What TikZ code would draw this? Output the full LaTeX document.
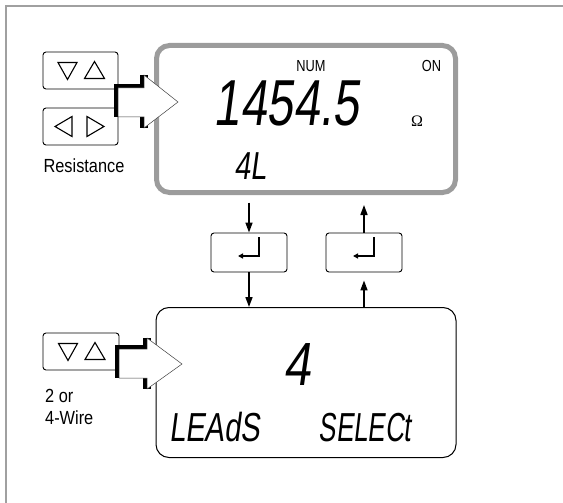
\documentclass[tikz,border=0pt]{standalone}
\usepackage{fontspec}
\setmainfont{Liberation Sans}
\newfontfamily\lcdfont[FakeSlant=0.18]{Liberation Sans}
\newfontfamily\serfont{Liberation Serif}
\usetikzlibrary{arrows.meta,calc}
\definecolor{framegray}{HTML}{A0A0A0}
\definecolor{dispgray}{HTML}{9C9C9C}
\begin{document}
\begin{tikzpicture}[x=1pt,y=-1pt,
  btn/.style={draw=black,line width=0.9pt,rounded corners=3pt,minimum width=75pt,minimum height=37pt,inner sep=0pt},
  entbtn/.style={draw=black,line width=0.9pt,rounded corners=3pt,minimum width=76pt,minimum height=39pt,inner sep=0pt},
  disp/.style={rounded corners=13pt,inner sep=0pt},
  conn/.style={line width=1.6pt,-{Triangle[length=10pt,width=7pt]}},
  tri/.style={line width=1.1pt,line join=miter},
  lbl/.style={inner sep=0pt},
  seg/.style={inner sep=0pt},
  fatarrow/.style={fill=white,draw=black!75,line width=0.5pt,line join=miter},
  fatshadow/.style={draw=black,line width=8pt,line join=miter,line cap=butt}]
\useasboundingbox (0,0) rectangle (563,503);
% frame
\draw[framegray,line width=1.2pt] (6,503) -- (6,6) -- (563,6);
% displays
\node[disp,draw=dispgray,line width=5pt,minimum width=299pt,minimum height=147pt] (top) at (306,119) {};
\node[disp,draw=black,line width=1pt,minimum width=300pt,minimum height=150pt] (bot) at (306,382.5) {};
% buttons
\node[btn] (ud1) at (80.5,70.5) {};
\node[btn] (lr) at (80.5,126.5) {};
\node[btn,minimum width=76pt] (ud2) at (81,351.5) {};
\node[entbtn] (e1) at (249,252.5) {};
\node[entbtn] (e2) at (364,252.5) {};
% triangle symbols
\foreach \b in {ud1,ud2}{
  \draw[tri] ($(\b.center)+(-22.5,-8)$) -- ++(19,0) -- ++(-9.5,17) -- cycle;
  \draw[tri] ($(\b.center)+(14,-9)$) -- ++(10,17) -- ++(-20,0) -- cycle;
}
\draw[tri] ($(lr.center)+(-8.5,-10)$) -- ++(0,20) -- ++(-17,-10) -- cycle;
\draw[tri] ($(lr.center)+(6.5,-10)$) -- ++(0,20) -- ++(17,-10) -- cycle;
% enter glyphs
\foreach \b in {e1,e2}{
  \draw[line width=1.4pt,-{Triangle[length=5pt,width=5pt]}] ($(\b.center)+(10,-15.5)$) -- ++(0,19) -- ++(-21,0);
}
% connectors
\draw[conn,shorten <=7.5pt] (top.south -| e1.north) -- (e1.north);
\draw[conn] (e1.south) -- (e1.south |- bot.north);
\draw[conn,shorten >=8pt] (e2.south |- bot.north) -- (e2.south);
\draw[conn,shorten >=10pt] (e2.north) -- (e2.north |- top.south);
% fat arrows (top)
\draw[fatshadow] (144,75) -- (144,88) -- (118,88) -- (118,117);
\draw[fatshadow] (144,117) -- (144,128);
\draw[fatarrow] (118,88) -- (144,88) -- (144,75) -- (178,102) -- (144,128) -- (144,117) -- (118,117) -- cycle;
% fat arrow (bottom)
\draw[fatshadow] (147,338) -- (147,349) -- (119,349) -- (119,378);
\draw[fatshadow] (147,378) -- (147,389);
\draw[fatarrow] (119,349) -- (147,349) -- (147,338) -- (182,364) -- (147,389) -- (147,378) -- (119,378) -- cycle;
% labels
\node[lbl] (res) at (84,166) {\fontsize{19}{22}\selectfont\scalebox{0.86}[1]{Resistance}};
\node[lbl,anchor=west] (two) at (45,395.5) {\fontsize{19}{22}\selectfont\scalebox{0.86}[1]{2 or}};
\node[lbl,anchor=west] (four) at (45,418) {\fontsize{19}{22}\selectfont\scalebox{0.86}[1]{4-Wire}};
\node[lbl] (num) at (311,66) {\fontsize{16}{18}\selectfont\scalebox{0.8}[1]{NUM}};
\node[lbl] (on) at (431.5,66) {\fontsize{16}{18}\selectfont\scalebox{0.8}[1]{ON}};
\node[lbl] (ohm) at (417,121) {\fontsize{16}{18}\serfont Ω};
% seven-segment texts
\node[seg] (val) at (286.5,103.5) {\fontsize{65}{65}\lcdfont\scalebox{0.73}[1]{1454.5}};
\node[seg] (fl) at (251,166) {\fontsize{39}{39}\lcdfont\scalebox{0.74}[1]{4L}};
\node[seg] (four2) at (297.5,365) {\fontsize{61}{61}\lcdfont\scalebox{0.8}[1]{4}};
\node[seg] (leads) at (214.5,427.5) {\fontsize{40.5}{41}\lcdfont\scalebox{0.72}[1]{LEAdS}};
\node[seg] (select) at (365,427.5) {\fontsize{40.5}{41}\lcdfont\scalebox{0.64}[1]{SELECt}};
\end{tikzpicture}
\end{document}
